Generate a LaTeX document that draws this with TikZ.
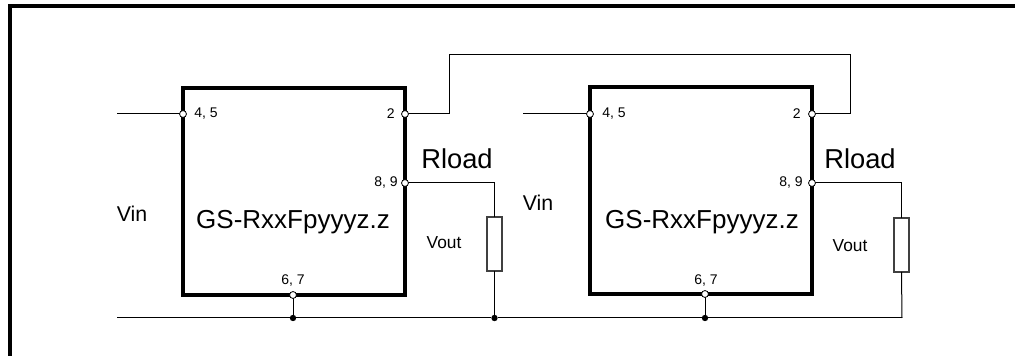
\documentclass[tikz,border=0pt]{standalone}
\usepackage{fontspec}
\setmainfont{Liberation Sans}
\begin{document}
\begin{tikzpicture}[x=0.75pt,y=-0.75pt,
  icbox/.style={draw, line width=3pt, minimum width=166.5pt, minimum height=155.25pt, inner sep=0pt, outer sep=0pt},
  pinc/.style={circle, draw, fill=white, line width=0.6pt, inner sep=0pt, minimum size=5.2pt},
  dotc/.style={circle, fill=black, inner sep=0pt, minimum size=4.8pt},
  wire/.style={line width=0.75pt},
  resbox/.style={draw=black!75, line width=0.8pt, minimum width=11.25pt, minimum height=40.5pt, inner sep=0pt, outer sep=0pt, fill=white},
  pinlbl/.style={font=\fontsize{10.5pt}{12pt}\selectfont, inner sep=0pt},
  bigtxt/.style={font=\fontsize{19.5pt}{22pt}\selectfont, inner sep=0pt},
  rtxt/.style={font=\fontsize{20.5pt}{23pt}\selectfont, inner sep=0pt},
  midtxt/.style={font=\fontsize{16pt}{18pt}\selectfont, inner sep=0pt},
  smtxt/.style={font=\fontsize{13pt}{15pt}\selectfont, inner sep=0pt},
  frameline/.style={line width=2.3pt}
]
\useasboundingbox (0,0) rectangle (1015,356);

% frame
\coordinate (fa) at (10,356);
\coordinate (fb) at (10,6);
\coordinate (fc) at (1015,6);
\draw[frameline] (fa) -- (fb) -- (fc);

% IC boxes
\node[icbox] (U1) at (294,191.5) {};
\node[icbox] (U2) at (701,191) {};
\node[bigtxt] (t1) at (293,222) {GS-RxxFpyyyz.z};
\node[bigtxt] (t2) at (702,222) {GS-RxxFpyyyz.z};

% resistors
\node[resbox] (R1) at (494.5,244) {};
\node[resbox] (R2) at (901.5,245) {};

% coordinates
\coordinate (in1) at (117,114);
\coordinate (in2) at (523,114);
\coordinate (k1) at (449,55);
\coordinate (k2) at (850,55);
\coordinate (g0) at (117,318);
\coordinate (g1) at (902,318);

% wires
\draw[wire] (in1) -- (183,114) coordinate (p45a);
\draw[wire] (in2) -- (590,114) coordinate (p45b);
\coordinate (p2a) at (405,114);
\coordinate (p2b) at (812,114);
\coordinate (p89a) at (405,183);
\coordinate (p89b) at (812,183);
\coordinate (p67a) at (293,295);
\coordinate (p67b) at (705,294);
\node[dotc] (j1) at (293,318) {};
\node[dotc] (j2) at (494.5,318) {};
\node[dotc] (j3) at (705,318) {};

\draw[wire] (p2a) -| (k1) -- (k2) |- (p2b);
\draw[wire] (p89a) -| (R1.north);
\draw[wire] (p89b) -| (R2.north);
\draw[wire] (R1.south) -- (j2);
\draw[wire] (R2.south) -- (g1);
\draw[wire] (g0) -- (j1) -- (j2) -- (j3) -- (g1);
\draw[wire] (p67a) -- (j1);
\draw[wire] (p67b) -- (j3);

% pins
\node[pinc] (P45a) at (p45a) {};
\node[pinc] (P2a) at (p2a) {};
\node[pinc] (P89a) at (p89a) {};
\node[pinc] (P67a) at (p67a) {};
\node[pinc] (P45b) at (p45b) {};
\node[pinc] (P2b) at (p2b) {};
\node[pinc] (P89b) at (p89b) {};
\node[pinc] (P67b) at (p67b) {};

% pin labels
\node[pinlbl, anchor=west] (l45a) at (194,114) {4, 5};
\node[pinlbl, anchor=east] (l2a) at (395,114) {2};
\node[pinlbl, anchor=east] (l89a) at (398,183) {8, 9};
\node[pinlbl] (l67a) at (293,281) {6, 7};
\node[pinlbl, anchor=west] (l45b) at (602,114) {4, 5};
\node[pinlbl, anchor=east] (l2b) at (801,114) {2};
\node[pinlbl, anchor=east] (l89b) at (803,183) {8, 9};
\node[pinlbl] (l67b) at (706,281) {6, 7};

% other labels
\node[rtxt] (rl1) at (457,159) {Rload};
\node[rtxt] (rl2) at (860,159) {Rload};
\node[midtxt] (vin1) at (132,214) {Vin};
\node[midtxt] (vin2) at (538,203) {Vin};
\node[smtxt] (vo1) at (444,243) {Vout};
\node[smtxt] (vo2) at (850,246) {Vout};
\end{tikzpicture}
\end{document}
